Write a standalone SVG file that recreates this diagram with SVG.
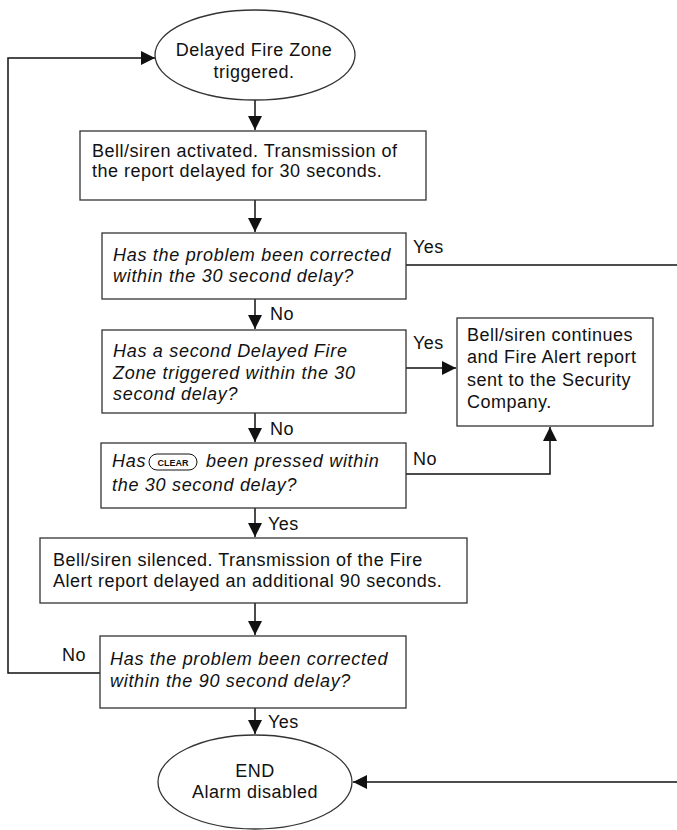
<svg xmlns="http://www.w3.org/2000/svg" width="677" height="830" viewBox="0 0 677 830">
<style>
.box{fill:#fff;stroke:#333;stroke-width:1.3}
.t{font-family:"Liberation Sans",Arial,sans-serif;font-size:18px;letter-spacing:0.5px;fill:#111}
.i{font-style:italic;letter-spacing:0.7px}
.c{text-anchor:middle}
.ln{fill:none;stroke:#111;stroke-width:1.5}
.key{font-family:"Liberation Sans",Arial,sans-serif;font-size:9px;font-weight:bold;fill:#111;text-anchor:middle}
</style>
<defs>
<marker id="ah" markerUnits="userSpaceOnUse" markerWidth="15" markerHeight="15" refX="14" refY="7.5" orient="auto">
<path d="M0,0.5 L14,7.5 L0,14.5 z" fill="#111"/>
</marker>
</defs>
<rect width="677" height="830" fill="#fff"/>

<g id="connectors">
<path class="ln" d="M255,100 V130" marker-end="url(#ah)"/>
<path class="ln" d="M255,200 V232" marker-end="url(#ah)"/>
<path class="ln" d="M406,265 H677"/>
<path class="ln" d="M255,299 V329" marker-end="url(#ah)"/>
<path class="ln" d="M406,368 H456" marker-end="url(#ah)"/>
<path class="ln" d="M255,413 V442" marker-end="url(#ah)"/>
<path class="ln" d="M406,474 H550 V427" marker-end="url(#ah)"/>
<path class="ln" d="M255,508 V537" marker-end="url(#ah)"/>
<path class="ln" d="M255,603 V635" marker-end="url(#ah)"/>
<path class="ln" d="M100,673 H8 V58 H155" marker-end="url(#ah)"/>
<path class="ln" d="M255,708 V734" marker-end="url(#ah)"/>
<path class="ln" d="M677,782 H353" marker-end="url(#ah)"/>
<text class="t" x="413" y="253">Yes</text>
<text class="t" x="270" y="320">No</text>
<text class="t" x="413" y="349">Yes</text>
<text class="t" x="270" y="435">No</text>
<text class="t" x="413" y="465">No</text>
<text class="t" x="268" y="530">Yes</text>
<text class="t" x="62" y="661">No</text>
<text class="t" x="268" y="728">Yes</text>
</g>

<g id="start">
<ellipse class="box" cx="255" cy="55" rx="100" ry="45"/>
<text class="t c" x="254" y="56">Delayed Fire Zone</text>
<text class="t c" x="254" y="78">triggered.</text>
</g>

<g id="activate">
<rect class="box" x="80" y="131" width="346" height="69"/>
<text class="t" x="92" y="157">Bell/siren activated. Transmission of</text>
<text class="t" x="92" y="177">the report delayed for 30 seconds.</text>
</g>

<g id="q1">
<rect class="box" x="102" y="233" width="304" height="66"/>
<text class="t i" x="113" y="261">Has the problem been corrected</text>
<text class="t i" x="113" y="282">within the 30 second delay?</text>
</g>

<g id="q2">
<rect class="box" x="102" y="330" width="304" height="83"/>
<text class="t i" x="113" y="357">Has a second Delayed Fire</text>
<text class="t i" x="113" y="379">Zone triggered within the 30</text>
<text class="t i" x="113" y="400">second delay?</text>
</g>

<g id="alert">
<rect class="box" x="457" y="318" width="196" height="108"/>
<text class="t" x="467" y="341">Bell/siren continues</text>
<text class="t" x="467" y="363">and Fire Alert report</text>
<text class="t" x="467" y="386">sent to the Security</text>
<text class="t" x="467" y="408">Company.</text>
</g>

<g id="q3">
<rect class="box" x="101" y="443" width="305" height="65"/>
<text class="t i" x="112" y="467">Has</text>
<rect x="149" y="454" width="48" height="16" rx="8" fill="none" stroke="#111" stroke-width="1"/>
<text class="key" x="173" y="465.5">CLEAR</text>
<text class="t i" x="206" y="467">been pressed within</text>
<text class="t i" x="112" y="491">the 30 second delay?</text>
</g>

<g id="silenced">
<rect class="box" x="40" y="538" width="427" height="65"/>
<text class="t" x="53" y="566">Bell/siren silenced. Transmission of the Fire</text>
<text class="t" x="53" y="587">Alert report delayed an additional 90 seconds.</text>
</g>

<g id="q4">
<rect class="box" x="100" y="636" width="306" height="72"/>
<text class="t i" x="110" y="665">Has the problem been corrected</text>
<text class="t i" x="110" y="687">within the 90 second delay?</text>
</g>

<g id="end">
<ellipse class="box" cx="255" cy="782" rx="97" ry="47"/>
<text class="t c" x="255" y="777">END</text>
<text class="t c" x="255" y="798">Alarm disabled</text>
</g>
</svg>
